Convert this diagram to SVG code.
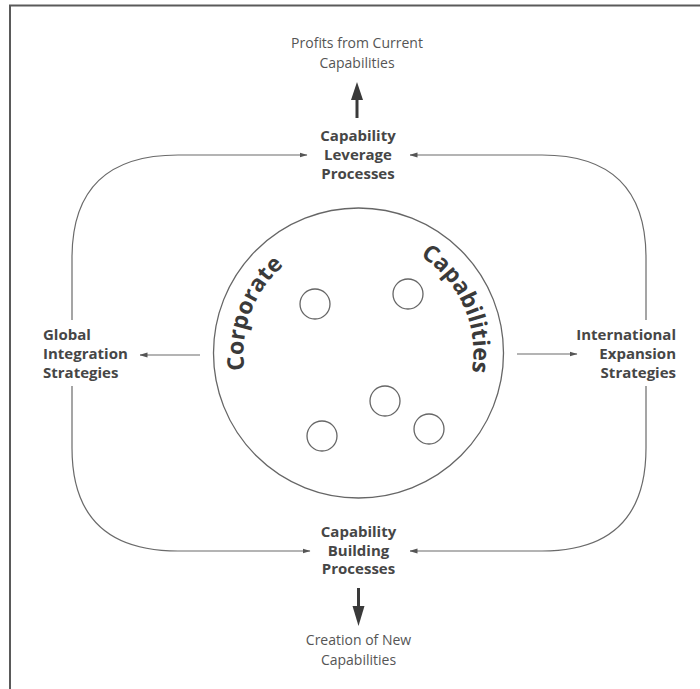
<svg xmlns="http://www.w3.org/2000/svg" width="700" height="689" viewBox="0 0 700 689">
  <style>
    .frame { fill: none; stroke: #5a5a5a; stroke-width: 2; }
    .thin { fill: none; stroke: #6a6a6a; stroke-width: 1.2; marker-end: url(#tip); }
    .ring { fill: none; stroke: #666; stroke-width: 1.3; }
    .bold { font-family: "Open Sans", "DejaVu Sans", sans-serif; font-weight: 700; font-size: 15px; fill: #464646; }
    .reg { font-family: "Open Sans", "DejaVu Sans", sans-serif; font-weight: 400; font-size: 14px; fill: #555; }
    .arc { font-family: "Open Sans", "DejaVu Sans", sans-serif; font-weight: 700; font-size: 23px; fill: #3a3a3a; }
  </style>
  <defs>
    <marker id="tip" viewBox="0 0 8 6" refX="7.5" refY="3" markerWidth="8" markerHeight="6" markerUnits="userSpaceOnUse" orient="auto">
      <path d="M0,0.6 L8,3 L0,5.4 Z" fill="#555"/>
    </marker>
    <path id="arcLeft" d="M250.1,391.4 A115,115 0 0 1 301.9,252.9"/>
    <path id="arcRight" d="M408.9,249.6 A115,115 0 0 1 469.0,384.7"/>
  </defs>

  <rect width="700" height="689" fill="#fff"/>
  <!-- open frame: top and left edges only -->
  <path class="frame" d="M10,689 L10,5.5 L700,5.5"/>

  <g id="connectors">
    <!-- outer loop feeding the two process nodes -->
    <path class="thin" d="M72,320 L72,258 C72,190 106,155 178,155 L307,155"/>
    <path class="thin" d="M646,320 L646,258 C646,190 612,155 542,155 L410,155"/>
    <path class="thin" d="M72,386 L72,448 C72,516 106,551 178,551 L310,551"/>
    <path class="thin" d="M646,386 L646,448 C646,516 612,551 542,551 L410,551"/>
    <!-- strategies out of the core -->
    <path class="thin" d="M200,355 L140,355"/>
    <path class="thin" d="M517,354 L577,354"/>
    <!-- heavy outcome arrows -->
    <path d="M357,118 L357,98" stroke="#3a3a3a" stroke-width="3" fill="none"/>
    <path d="M351,100 L357,82 L363,100 Z" fill="#3a3a3a"/>
    <path d="M358.5,588 L358.5,608" stroke="#3a3a3a" stroke-width="3" fill="none"/>
    <path d="M352.5,606 L358.5,626 L364.5,606 Z" fill="#3a3a3a"/>
  </g>

  <g id="profits">
    <text class="reg" text-anchor="middle" x="357" y="48">Profits from Current</text>
    <text class="reg" text-anchor="middle" x="357" y="68">Capabilities</text>
  </g>

  <g id="leverage">
    <text class="bold" text-anchor="middle" x="358" y="141">Capability</text>
    <text class="bold" text-anchor="middle" x="358" y="160">Leverage</text>
    <text class="bold" text-anchor="middle" x="358" y="179">Processes</text>
  </g>

  <g id="global">
    <text class="bold" x="43" y="340">Global</text>
    <text class="bold" x="43" y="359">Integration</text>
    <text class="bold" x="43" y="378">Strategies</text>
  </g>

  <g id="international">
    <text class="bold" text-anchor="end" x="676" y="340">International</text>
    <text class="bold" text-anchor="end" x="676" y="359">Expansion</text>
    <text class="bold" text-anchor="end" x="676" y="378">Strategies</text>
  </g>

  <g id="core">
    <circle class="ring" cx="358.5" cy="353" r="145"/>
    <circle class="ring" cx="315" cy="304" r="15"/>
    <circle class="ring" cx="408" cy="294" r="15"/>
    <circle class="ring" cx="385" cy="401" r="15"/>
    <circle class="ring" cx="322" cy="436" r="15"/>
    <circle class="ring" cx="429" cy="429" r="15"/>
    <text class="arc"><textPath href="#arcLeft" startOffset="50%" text-anchor="middle">Corporate</textPath></text>
    <text class="arc"><textPath href="#arcRight" startOffset="50%" text-anchor="middle">Capabilities</textPath></text>
  </g>

  <g id="building">
    <text class="bold" text-anchor="middle" x="358.5" y="537">Capability</text>
    <text class="bold" text-anchor="middle" x="358.5" y="555.5">Building</text>
    <text class="bold" text-anchor="middle" x="358.5" y="574">Processes</text>
  </g>

  <g id="creation">
    <text class="reg" text-anchor="middle" x="358.5" y="645">Creation of New</text>
    <text class="reg" text-anchor="middle" x="358.5" y="665">Capabilities</text>
  </g>
</svg>
